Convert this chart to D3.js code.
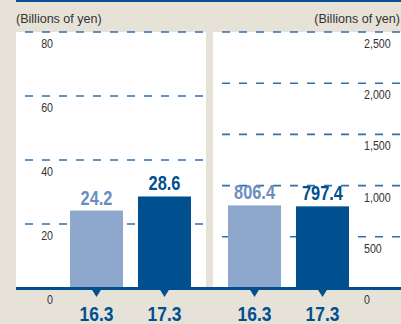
<!DOCTYPE html>
<html>
<head>
<meta charset="utf-8">
<script src="https://cdn.jsdelivr.net/npm/d3@7/dist/d3.min.js"></script>
<style>
  html, body { margin: 0; padding: 0; background: #e6e2d8; }
  svg { display: block; }
  text { font-family: "Liberation Sans", Arial, sans-serif; }
</style>
</head>
<body>
<svg id="chart" width="401" height="324"></svg>
<script>
// Fiscal years shown in both panels
const categories = ["16.3", "17.3"];
// Left panel values (billions of yen)
const leftValues = [24.2, 28.6];
const leftTicks = [0, 20, 40, 60, 80];
// Right panel values (billions of yen)
const rightValues = [806.4, 797.4];
const rightTicks = [0, 500, 1000, 1500, 2000, 2500];
const unitLabel = "(Billions of yen)";

const W = 401, H = 324;
const plotTop = 32, base = 288;
const colors = { light: "#8ea7cd", dark: "#00508f", lightText: "#6b8dc1", grid: "#2f6fae", ink: "#333333" };

const svg = d3.select("#chart");

// condensed look: place text at (x, y) and squeeze it horizontally
const place = (x, y, sx) => `translate(${x},${y}) scale(${sx},1)`;

// background
svg.append("rect").attr("width", W).attr("height", H).attr("fill", "#e6e2d8");

const panels = [
  { x0: 16, x1: 206, bars: [70, 191], values: leftValues, ticks: leftTicks, max: 80,
    fmt: d3.format("d"), labelX: 53, anchor: "end" },
  { x0: 213, x1: 401, bars: [228, 349], values: rightValues, ticks: rightTicks, max: 2500,
    fmt: d3.format(","), labelX: 364, anchor: "start" }
];

panels.forEach(p => {
  const y = d3.scaleLinear().domain([0, p.max]).range([base, plotTop]);
  const x = d3.scaleBand().domain(categories).range(p.bars).paddingInner(0.22).paddingOuter(0);
  const cx = c => x(c) + x.bandwidth() / 2;
  const g = svg.append("g");

  // white plotting area
  g.append("rect").attr("x", p.x0).attr("y", plotTop)
    .attr("width", p.x1 - p.x0).attr("height", base - plotTop).attr("fill", "#ffffff");

  // dashed gridlines (not at zero, the baseline covers that)
  g.selectAll("line.grid").data(p.ticks.filter(t => t > 0)).join("line")
    .attr("class", "grid")
    .attr("x1", p.x0).attr("x2", p.x1)
    .attr("y1", d => y(d)).attr("y2", d => y(d))
    .attr("stroke", colors.grid).attr("stroke-width", 1.6)
    .attr("stroke-dasharray", "8 9").attr("stroke-dashoffset", 8);

  // tick labels sit just below their gridline
  g.selectAll("text.tick").data(p.ticks).join("text")
    .attr("class", "tick")
    .attr("transform", d => place(p.labelX, y(d) + 16, 0.82))
    .attr("text-anchor", p.anchor)
    .attr("font-size", 13).attr("fill", colors.ink)
    .text(d => p.fmt(d));

  // bars
  g.selectAll("rect.bar").data(p.values).join("rect")
    .attr("class", "bar")
    .attr("x", (d, i) => x(categories[i]))
    .attr("width", x.bandwidth())
    .attr("y", d => y(d))
    .attr("height", d => base - y(d))
    .attr("fill", (d, i) => i === 0 ? colors.light : colors.dark);

  // value labels
  g.selectAll("text.val").data(p.values).join("text")
    .attr("class", "val")
    .attr("transform", (d, i) => place(cx(categories[i]), y(d) - 6, 0.84))
    .attr("text-anchor", "middle")
    .attr("font-size", 19.5).attr("font-weight", "bold")
    .attr("fill", (d, i) => i === 0 ? colors.lightText : colors.dark)
    .text(d => d.toFixed(1));

  // category markers and labels under the baseline
  g.selectAll("path.marker").data(categories).join("path")
    .attr("class", "marker")
    .attr("d", d => `M${cx(d) - 5},${base + 1}L${cx(d) + 5},${base + 1}L${cx(d)},${base + 9}Z`)
    .attr("fill", colors.dark);

  g.selectAll("text.cat").data(categories).join("text")
    .attr("class", "cat")
    .attr("transform", d => place(cx(d), 320.5, 0.87))
    .attr("text-anchor", "middle")
    .attr("font-size", 20).attr("font-weight", "bold")
    .attr("fill", colors.dark)
    .text(d => d);
});

// baseline across both panels
svg.append("line").attr("x1", 16).attr("x2", W).attr("y1", base + 0.5).attr("y2", base + 0.5)
  .attr("stroke", colors.dark).attr("stroke-width", 3);

// top rule
svg.append("line").attr("x1", 16).attr("x2", W).attr("y1", 1).attr("y2", 1)
  .attr("stroke", "#0a4f94").attr("stroke-width", 2);

// unit captions
svg.append("text").attr("transform", place(16, 23, 0.93))
  .attr("font-size", 13.5).attr("fill", colors.ink).text(unitLabel);
svg.append("text").attr("transform", place(400, 23, 0.93)).attr("text-anchor", "end")
  .attr("font-size", 13.5).attr("fill", colors.ink).text(unitLabel);
</script>
</body>
</html>
